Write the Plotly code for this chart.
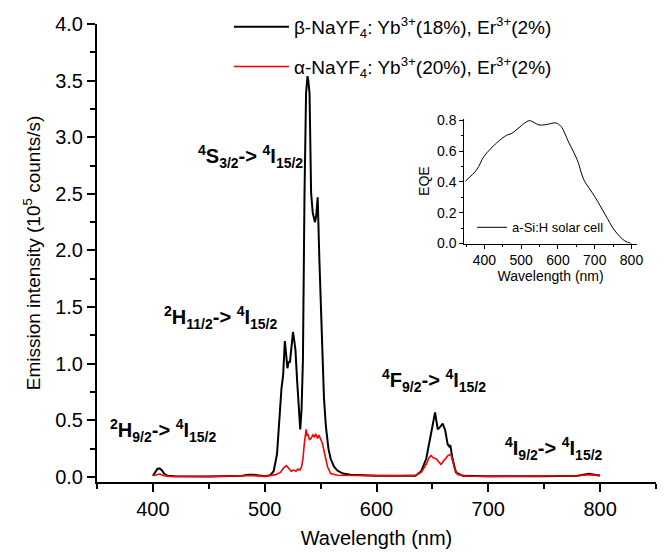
import plotly.graph_objects as go

# Upconversion emission spectra (intensity in 1e5 counts/s)
beta_wl = [400, 402, 404, 406, 408, 410, 413, 420, 450, 480, 485, 490, 495, 500, 505, 508,
           511, 513, 515, 516.5, 518, 519, 520.3, 521.5, 522.5, 524, 525.3, 526.5, 527.5,
           529, 530.5, 531.8, 533, 534.2, 535.6, 537, 538.3, 539, 540.1, 541.5, 543, 545,
           546, 547.4, 548.9, 550.3, 551.8, 553, 554.7, 557, 559, 562, 565, 570, 577, 585,
           600, 620, 635, 640, 644.5, 647.4, 650.4, 652.4, 653.5, 654.8, 656.8, 659.2,
           661.5, 663.6, 665, 666, 668, 671, 677, 700, 750, 780, 785, 790, 795, 800]
beta_int = [0.01, 0.04, 0.07, 0.075, 0.06, 0.03, 0.01, 0.005, 0.004, 0.01, 0.02, 0.02, 0.01,
            0.005, 0.015, 0.05, 0.2, 0.5, 0.78, 0.9, 1.2, 1.1, 0.96, 1.02, 1.01, 1.15, 1.28,
            1.2, 1.12, 0.85, 0.55, 0.42, 0.6, 1.04, 2.5, 3.39, 3.54, 3.5, 3.39, 2.51, 2.33,
            2.25, 2.3, 2.47, 1.92, 1.45, 1.04, 0.7, 0.45, 0.25, 0.16, 0.09, 0.056, 0.03, 0.02,
            0.015, 0.01, 0.01, 0.01, 0.05, 0.16, 0.31, 0.48, 0.57, 0.5, 0.42, 0.44, 0.47,
            0.41, 0.29, 0.27, 0.28, 0.16, 0.04, 0.01, 0.005, 0.005, 0.01, 0.02, 0.028, 0.02,
            0.012]

alpha_wl = [400, 403, 406, 410, 415, 450, 485, 490, 500, 506, 510, 514, 517, 519.4, 521,
            523.8, 526, 528, 529.7, 531.5, 533, 534.2, 535.5, 537.1, 538, 538.6, 540, 541.5,
            543, 544.5, 545.5, 547.4, 548.5, 550.4, 551.5, 553.3, 555, 556.2, 559, 565, 580,
            600, 620, 635, 640, 644.5, 647, 648.9, 650.5, 653.3, 655.5, 657.7, 660, 662.1,
            664, 666.5, 668, 669.5, 672.4, 680, 700, 780, 790, 795, 800]
alpha_int = [0.01, 0.02, 0.025, 0.01, 0.003, 0.003, 0.01, 0.012, 0.005, 0.01, 0.02, 0.04,
             0.08, 0.1, 0.08, 0.05, 0.06, 0.05, 0.07, 0.06, 0.09, 0.16, 0.3, 0.42, 0.36, 0.38,
             0.33, 0.34, 0.37, 0.35, 0.38, 0.34, 0.37, 0.33, 0.3, 0.22, 0.13, 0.09, 0.03,
             0.015, 0.012, 0.01, 0.01, 0.015, 0.04, 0.11, 0.17, 0.19, 0.17, 0.16, 0.13, 0.11,
             0.14, 0.17, 0.19, 0.2, 0.15, 0.09, 0.02, 0.008, 0.005, 0.01, 0.02, 0.015, 0.01]

# External quantum efficiency of the a-Si:H cell
eqe_wl = [348, 379, 399, 433, 460, 473, 514, 523, 549, 567, 594, 608, 630, 652, 670, 684,
          702, 728, 755, 782, 800]
eqe_val = [0.405, 0.48, 0.567, 0.653, 0.703, 0.714, 0.79, 0.798, 0.77, 0.772, 0.783, 0.761,
           0.653, 0.546, 0.416, 0.362, 0.298, 0.19, 0.082, 0.017, 0.0]

FONT = "Liberation Sans, Arial, sans-serif"

fig = go.Figure()
fig.add_trace(go.Scatter(
    x=beta_wl, y=beta_int, mode="lines", line=dict(color="black", width=2),
    name="β-NaYF<sub>4</sub>: Yb<sup>3+</sup>(18%), Er<sup>3+</sup>(2%)",
    legendgroup="b", legend="legend"))
fig.add_trace(go.Scatter(
    x=alpha_wl, y=alpha_int, mode="lines", line=dict(color="red", width=1.6),
    name="α-NaYF<sub>4</sub>: Yb<sup>3+</sup>(20%), Er<sup>3+</sup>(2%)",
    legendgroup="a", legend="legend"))
fig.add_trace(go.Scatter(
    x=eqe_wl, y=eqe_val, mode="lines", line=dict(color="black", width=1, shape="spline"),
    name="a-Si:H solar cell", xaxis="x2", yaxis="y2", legend="legend2"))

axis_common = dict(showline=True, linecolor="black", ticks="outside", tickcolor="black",
                   showgrid=False, zeroline=False, mirror=False)

fig.update_layout(
    width=670, height=554,
    margin=dict(l=97, r=8, t=24, b=71),
    paper_bgcolor="white", plot_bgcolor="white",
    font=dict(family=FONT, color="black", size=19),
    xaxis=dict(**axis_common, range=[350, 850], dtick=100, linewidth=2, tickwidth=2,
               ticklen=8, tickfont=dict(size=20),
               minor=dict(ticks="outside", dtick=50, ticklen=5, tickwidth=2, tickcolor="black"),
               title=dict(text="Wavelength (nm)", font=dict(size=20), standoff=12)),
    yaxis=dict(**axis_common, range=[-0.045, 4.0], dtick=0.5, tickformat=".1f", linewidth=2,
               tickwidth=2, ticklen=8, tickfont=dict(size=20),
               minor=dict(ticks="outside", dtick=0.25, ticklen=5, tickwidth=2, tickcolor="black"),
               title=dict(text="Emission intensity (10<sup>5</sup> counts/s)",
                          font=dict(size=19), standoff=10)),
    xaxis2=dict(**axis_common, domain=[0.657, 0.966], anchor="y2", range=[345, 815],
                dtick=100, linewidth=1, tickwidth=1, ticklen=4, tickfont=dict(size=14),
                minor=dict(ticks="outside", dtick=50, ticklen=2, tickwidth=1, tickcolor="black"),
                title=dict(text="Wavelength (nm)", font=dict(size=14), standoff=2)),
    yaxis2=dict(**axis_common, domain=[0.5207, 0.793], anchor="x2", range=[0, 0.81],
                dtick=0.2, tickformat=".1f", linewidth=1, tickwidth=1, ticklen=4,
                tickfont=dict(size=14),
                minor=dict(ticks="outside", dtick=0.1, ticklen=2, tickwidth=1, tickcolor="black"),
                title=dict(text="EQE", font=dict(size=14), standoff=4)),
    legend=dict(x=0.236, y=1.035, xanchor="left", yanchor="top", bgcolor="rgba(0,0,0,0)",
                font=dict(size=19), tracegroupgap=12, itemwidth=55),
    legend2=dict(x=0.671, y=0.556, xanchor="left", yanchor="middle",
                 bgcolor="rgba(0,0,0,0)", font=dict(size=13)),
    showlegend=True,
)

# Transition labels
labels = [
    ("<sup>4</sup>S<sub>3/2</sub>-> <sup>4</sup>I<sub>15/2</sub>", 438.8, 2.83),
    ("<sup>2</sup>H<sub>11/2</sub>-> <sup>4</sup>I<sub>15/2</sub>", 408, 1.41),
    ("<sup>2</sup>H<sub>9/2</sub>-> <sup>4</sup>I<sub>15/2</sub>", 359.4, 0.41),
    ("<sup>4</sup>F<sub>9/2</sub>-> <sup>4</sup>I<sub>15/2</sub>", 603, 0.85),
    ("<sup>4</sup>I<sub>9/2</sub>-> <sup>4</sup>I<sub>15/2</sub>", 713, 0.25),
]
for text, lx, ly in labels:
    fig.add_annotation(text="<b>" + text + "</b>", x=lx, y=ly, xref="x", yref="y",
                       xanchor="left", yanchor="middle", showarrow=False,
                       font=dict(size=20, family=FONT, color="black"))

fig.write_html("out.html")
